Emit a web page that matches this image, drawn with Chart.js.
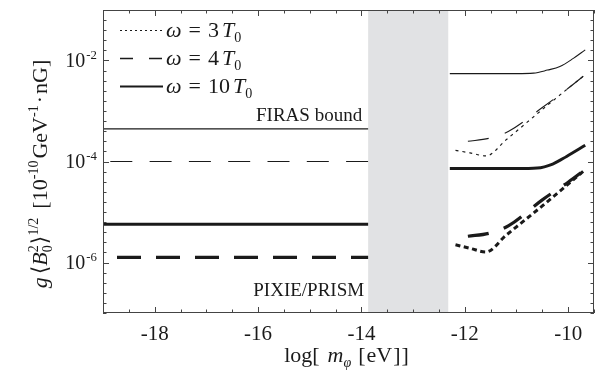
<!DOCTYPE html>
<html>
<head>
<meta charset="utf-8">
<script src="https://cdn.jsdelivr.net/npm/chart.js@4/dist/chart.umd.min.js"></script>
<style>
  html, body { margin: 0; padding: 0; background: #fff; }
  #wrap { width: 598px; height: 372px; }
</style>
</head>
<body>
<div id="wrap"><canvas id="chart" width="598" height="372"></canvas></div>
<script>
// axis ranges and ticks
const xRange = [-19, -9.5];
const yRange = [1e-7, 1e-1];
const xTickLabels = [-18, -16, -14, -12, -10];
const yTickExponents = [-2, -4, -6];
const excludedBand = [-13.87, -12.32];

// left part (constant bounds)
const leftX = [-19, -13.87];
const firas10Left = [4.43e-4, 4.43e-4];
const firas4Left = [1.0e-4, 1.0e-4];
const pixie10Left = [5.7e-6, 5.7e-6];
const pixie4Left = [1.26e-6, 1.26e-6];

// right part, FIRAS (thin)
const firas10X = [-12.29, -11.0, -10.67, -10.4, -10.16, -9.9, -9.67];
const firas10Y = [5.5e-3, 5.5e-3, 5.62e-3, 6.46e-3, 7.59e-3, 1.1e-2, 1.62e-2];
const firas4X = [-11.94, -11.53, -11.15, -10.5, -10.0, -9.67];
const firas4Y = [2.51e-4, 2.88e-4, 3.98e-4, 1.17e-3, 2.82e-3, 5.25e-3];
const firas3X = [-12.18, -11.9, -11.59, -11.2, -10.5, -10.0, -9.67];
const firas3Y = [1.66e-4, 1.48e-4, 1.29e-4, 2.69e-4, 1.07e-3, 2.82e-3, 5.25e-3];

// right part, PIXIE/PRISM (thick)
const pixie10X = [-12.29, -11.0, -10.6, -10.3, -10.03, -9.67];
const pixie10Y = [7.24e-5, 7.24e-5, 7.41e-5, 8.91e-5, 1.26e-4, 2.09e-4];
const pixie4X = [-11.94, -11.53, -11.15, -10.5, -10.0, -9.67];
const pixie4Y = [3.31e-6, 3.8e-6, 5.37e-6, 1.74e-5, 3.89e-5, 6.92e-5];
const pixie3X = [-12.18, -11.9, -11.59, -11.2, -10.5, -10.0, -9.67];
const pixie3Y = [2.24e-6, 1.91e-6, 1.62e-6, 3.47e-6, 1.32e-5, 3.55e-5, 6.92e-5];

const FONT = '"Liberation Serif", "DejaVu Serif", serif';
const INK = '#1a1a1a';

function pts(xs, ys) {
  return xs.map(function(x, i) { return { x: x, y: ys[i] }; });
}

function line(xs, ys, width, dash, offset) {
  return {
    data: pts(xs, ys),
    borderColor: INK,
    borderWidth: width,
    borderDash: dash || [],
    borderDashOffset: offset || 0,
    pointRadius: 0,
    fill: false,
    cubicInterpolationMode: 'monotone',
    borderCapStyle: 'butt'
  };
}

// draws text made of pieces: {t, i (italic), s ('sup'|'sub'), na (no advance)} or {g: gap px}
function rich(ctx, x, y, parts, size, align) {
  const items = [];
  let w = 0;
  parts.forEach(function(p) {
    if (p.g !== undefined) { items.push({ t: '', font: null, dy: 0, adv: p.g }); w += p.g; return; }
    const fs = p.s ? size * 0.64 : size;
    const font = (p.i ? 'italic ' : '') + fs + 'px ' + FONT;
    ctx.font = font;
    const pw = ctx.measureText(p.t).width;
    const dy = p.s === 'sup' ? -size * 0.42 : (p.s === 'sub' ? size * 0.24 : 0);
    items.push({ t: p.t, font: font, dy: dy, adv: p.na ? 0 : pw });
    w += p.na ? 0 : pw;
  });
  let cx = x;
  if (align === 'center') cx = x - w / 2;
  if (align === 'right') cx = x - w;
  ctx.textAlign = 'left';
  ctx.textBaseline = 'alphabetic';
  items.forEach(function(it) {
    if (it.font) {
      ctx.font = it.font;
      ctx.fillText(it.t, cx, y + it.dy);
    }
    cx += it.adv;
  });
}

const decor = {
  id: 'decor',
  beforeDatasetsDraw(chart) {
    const ctx = chart.ctx;
    const a = chart.chartArea;
    const xs = chart.scales.x;
    const x0 = xs.getPixelForValue(excludedBand[0]);
    const x1 = xs.getPixelForValue(excludedBand[1]);
    ctx.save();
    ctx.fillStyle = '#e1e2e4';
    ctx.fillRect(x0, a.top, x1 - x0, a.bottom - a.top);
    ctx.restore();
  },
  afterDatasetsDraw(chart) {
    const ctx = chart.ctx;
    const a = chart.chartArea;
    const xs = chart.scales.x;
    const ys = chart.scales.y;
    ctx.save();
    ctx.strokeStyle = '#444';
    ctx.lineWidth = 1;
    ctx.strokeRect(a.left + 0.5, a.top + 0.5, a.right - a.left - 1, a.bottom - a.top - 1);

    // x ticks (inward, bottom and top)
    ctx.beginPath();
    for (let v = xRange[0]; v <= xRange[1] + 1e-9; v += 0.5) {
      const px = Math.round(xs.getPixelForValue(v)) + 0.5;
      const len = Number.isInteger(v) && v % 2 === 0 ? 6 : 3.5;
      ctx.moveTo(px, a.bottom); ctx.lineTo(px, a.bottom - len);
      ctx.moveTo(px, a.top); ctx.lineTo(px, a.top + len);
    }
    // y ticks every 0.2 decade (inward, left and right)
    for (let k = -35; k <= -5; k++) {
      const e = k / 5;
      const py = Math.round(ys.getPixelForValue(Math.pow(10, e))) + 0.5;
      const len = k % 10 === 0 ? 6 : 3.5;
      ctx.moveTo(a.left, py); ctx.lineTo(a.left + len, py);
      ctx.moveTo(a.right, py); ctx.lineTo(a.right - len, py);
    }
    ctx.stroke();

    ctx.fillStyle = INK;
    // x tick labels
    ctx.font = '21px ' + FONT;
    ctx.textAlign = 'center';
    ctx.textBaseline = 'alphabetic';
    xTickLabels.forEach(function(v) {
      ctx.fillText('-' + Math.abs(v), xs.getPixelForValue(v), a.bottom + 27);
    });
    // y tick labels 10^n
    yTickExponents.forEach(function(e) {
      const py = ys.getPixelForValue(Math.pow(10, e));
      rich(ctx, a.left - 6, py + 6.5, [{ t: '10' }, { g: 1 }, { t: '-' + Math.abs(e), s: 'sup' }], 20, 'right');
    });

    // x axis title
    rich(ctx, (a.left + a.right) / 2 - 2, 362, [
      { t: 'log[' }, { g: 8 }, { t: 'm', i: true }, { t: 'φ', i: true, s: 'sub' }, { g: 7 },
      { t: '[' }, { g: 1 }, { t: 'eV' }, { g: 1 }, { t: ']' }, { g: 1 }, { t: ']' }
    ], 22, 'center');

    // y axis title
    ctx.save();
    ctx.translate(47, 174);
    ctx.rotate(-Math.PI / 2);
    rich(ctx, 0, 0, [
      { t: 'g', i: true }, { g: 3 }, { t: '⟨' }, { t: 'B', i: true },
      { t: '2', s: 'sup', na: true }, { t: '0', s: 'sub' }, { g: 1 }, { t: '⟩' },
      { t: '1/2', s: 'sup' }, { g: 9 }, { t: '[10' }, { t: '-10', s: 'sup' }, { g: 2 },
      { t: 'GeV' }, { t: '-1', s: 'sup' }, { g: 2 }, { t: '·' }, { g: 2 }, { t: 'nG]' }
    ], 22, 'center');
    ctx.restore();

    // region annotations
    const bx = xs.getPixelForValue(leftX[1]) - 6;
    ctx.font = '19px ' + FONT;
    ctx.textAlign = 'right';
    ctx.fillText('FIRAS bound', bx, ys.getPixelForValue(firas10Left[0]) - 8);
    ctx.fillText('PIXIE/PRISM', bx + 2, ys.getPixelForValue(pixie4Left[0]) + 39);

    // legend
    const rows = [
      { n: '3', w: 1.2, dash: [2, 3] },
      { n: '4', w: 1.6, dash: [13, 16] },
      { n: '10', w: 2, dash: [] }
    ];
    rows.forEach(function(r, i) {
      const base = 37 + i * 28;
      ctx.beginPath();
      ctx.lineWidth = r.w;
      ctx.strokeStyle = INK;
      ctx.setLineDash(r.dash);
      ctx.moveTo(120, base - 6.5);
      ctx.lineTo(163, base - 6.5);
      ctx.stroke();
      ctx.setLineDash([]);
      rich(ctx, 166, base, [
        { t: 'ω', i: true }, { g: 7 }, { t: '=' }, { g: 7 }, { t: r.n }, { g: 3 },
        { t: 'T', i: true }, { t: '0', s: 'sub' }
      ], 22, 'left');
    });
    ctx.restore();
  }
};

new Chart(document.getElementById('chart').getContext('2d'), {
  type: 'line',
  data: {
    datasets: [
      line(leftX, firas10Left, 1.1),
      line(leftX, firas4Left, 1.1, [22, 17.3], 32),
      line(leftX, pixie10Left, 3),
      line(leftX, pixie4Left, 3.2, [24, 15], 25),
      line(firas10X, firas10Y, 1.1),
      line(firas4X, firas4Y, 1.1, [21, 17]),
      line(firas3X, firas3Y, 1.1, [3, 4]),
      line(pixie10X, pixie10Y, 3),
      line(pixie4X, pixie4Y, 3.2, [21, 16]),
      line(pixie3X, pixie3Y, 3, [5, 3.5])
    ]
  },
  options: {
    responsive: false,
    animation: false,
    devicePixelRatio: 1,
    layout: { padding: { left: 103, right: 4, top: 10, bottom: 59 } },
    plugins: { legend: { display: false }, tooltip: { enabled: false } },
    scales: {
      x: { type: 'linear', min: xRange[0], max: xRange[1], display: false },
      y: { type: 'logarithmic', min: yRange[0], max: yRange[1], display: false }
    }
  },
  plugins: [decor]
});
</script>
</body>
</html>
